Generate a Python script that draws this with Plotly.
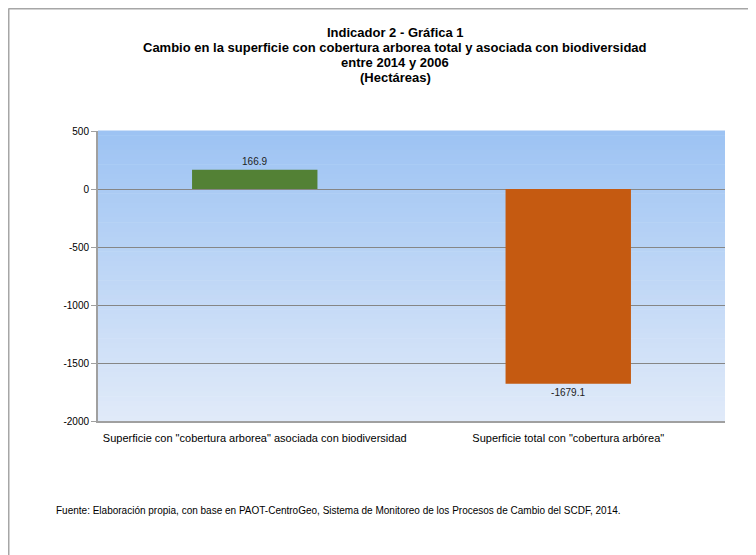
import plotly.graph_objects as go

categories = ['Superficie con "cobertura arborea" asociada con biodiversidad',
              'Superficie total con "cobertura arbórea"']
values = [166.9, -1679.1]
labels = ["166.9", "-1679.1"]
bar_colors = ["#538135", "#C55A11"]
tick_vals = [500, 0, -500, -1000, -1500, -2000]
title_lines = ["Indicador 2 - Gráfica 1",
               "Cambio en la superficie con cobertura arborea total y asociada con biodiversidad",
               "entre 2014 y 2006",
               "(Hectáreas)"]
source_text = "Fuente: Elaboración propia, con base en PAOT-CentroGeo, Sistema de Monitoreo de los Procesos de Cambio del SCDF, 2014."

# page offset (browser body margin) compensation
OX, OY = 8, 8
L, R, T, B = 98 - OX, 725 - OX, 131 - OY, 421 - OY
W, H = 756, 555
PW, PH = R - L, B - T

def px(x):
    return (x - OX - L) / PW

def py(y):
    return (B - (y - OY)) / PH

fig = go.Figure()
fig.add_trace(go.Bar(
    x=categories, y=values, marker=dict(color=bar_colors, line=dict(width=0)),
    text=labels, textposition="outside", cliponaxis=False,
    textfont=dict(family="Liberation Sans, Arial", size=10, color="#222"),
    width=0.4,
))

# vertical gradient background in plot area
n = 60
top = (157, 195, 243)
bot = (224, 234, 249)
for i in range(n):
    t = i / (n - 1)
    c = tuple(round(top[k] + (bot[k] - top[k]) * t) for k in range(3))
    fig.add_shape(type="rect", xref="paper", yref="paper",
                  x0=0, x1=1, y0=1 - (i + 1) / n, y1=1 - i / n + 0.002,
                  fillcolor="rgb(%d,%d,%d)" % c, line=dict(width=0), layer="below")

# outer frame (top and left)
fig.add_shape(type="line", xref="paper", yref="paper",
              x0=px(8.5), x1=px(770), y0=py(8.5), y1=py(8.5),
              line=dict(color="#a6a6a6", width=2))
fig.add_shape(type="line", xref="paper", yref="paper",
              x0=px(8.5), x1=px(8.5), y0=py(8.5), y1=py(570),
              line=dict(color="#a6a6a6", width=2))

title_y = [32, 47, 62, 77]
for txt, yy in zip(title_lines, title_y):
    fig.add_annotation(text="<b>%s</b>" % txt, xref="paper", yref="paper",
                       x=px(395), y=py(yy), xanchor="center", yanchor="middle",
                       showarrow=False,
                       font=dict(family="Liberation Sans, Arial", size=13, color="#000"))

fig.add_annotation(
    text=source_text,
    xref="paper", yref="paper", x=px(54), y=py(510),
    xanchor="left", yanchor="middle", showarrow=False,
    font=dict(family="Liberation Sans, Arial", size=10, color="#000"))

fig.update_layout(
    width=W, height=H,
    margin=dict(l=L, r=W - R, t=T, b=H - B),
    paper_bgcolor="white", plot_bgcolor="rgba(0,0,0,0)",
    showlegend=False,
    font=dict(family="Liberation Sans, Arial", size=10, color="#000"),
    bargap=0.6,
)
fig.update_yaxes(range=[-2000, 500], tickvals=tick_vals, ticktext=[str(v) for v in tick_vals],
                 showgrid=True, gridcolor="#868686", gridwidth=1,
                 zeroline=False, showline=True, linecolor="#a0a0a0", linewidth=2,
                 ticks="outside", ticklen=5, tickcolor="#a0a0a0",
                 tickfont=dict(size=10, color="#000"))
fig.update_xaxes(showline=True, linecolor="#a0a0a0", linewidth=2, ticks="",
                 ticklabelstandoff=6,
                 tickfont=dict(size=11, color="#000"))

fig.write_html("out.html")
